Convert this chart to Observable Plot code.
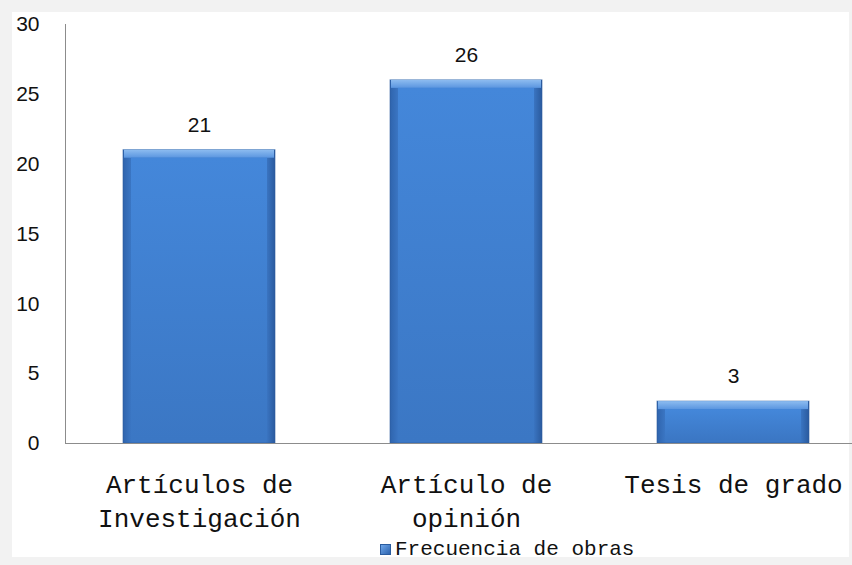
<!DOCTYPE html>
<html>
<head>
<meta charset="utf-8">
<script src="https://cdn.jsdelivr.net/npm/d3@7"></script>
<script src="https://cdn.jsdelivr.net/npm/@observablehq/plot@0.6"></script>
<style>
  html, body { margin: 0; padding: 0; background: #f2f2f2; }
  #frame { position: absolute; left: 12px; top: 12px; width: 837px; height: 545px; background: #ffffff; }
  #chart { position: absolute; left: 0; top: 0; }
  #legend { position: absolute; left: 380px; top: 538px; font-family: "Liberation Mono", "Courier New", monospace; font-size: 21px; color: #111; display: flex; align-items: center; }
  #legend .sw { width: 9px; height: 9px; margin-right: 4px; background: linear-gradient(135deg, #6ea6ea, #2d63ad); border: 1px solid #2a5c9f; }
</style>
</head>
<body>
<div id="frame"></div>
<div id="chart"></div>
<div id="legend"><span class="sw"></span><span id="legendText"></span></div>
<script>
const categories = ["Artículos de\nInvestigación", "Artículo de\nopinión", "Tesis de grado"];
const values = [21, 26, 3];
const yTicks = [0, 5, 10, 15, 20, 25, 30];
const seriesName = "Frecuencia de obras";

const data = categories.map((c, i) => ({category: c, value: values[i]}));

const defs = () => {
  const s = d3.create("svg:defs");
  const g1 = s.append("linearGradient").attr("id", "inner").attr("x1", 0).attr("y1", 0).attr("x2", 0).attr("y2", 1);
  g1.append("stop").attr("offset", "0%").attr("stop-color", "#4487da");
  g1.append("stop").attr("offset", "100%").attr("stop-color", "#3b77c4");
  const g2 = s.append("linearGradient").attr("id", "top").attr("x1", 0).attr("y1", 0).attr("x2", 0).attr("y2", 1);
  g2.append("stop").attr("offset", "0%").attr("stop-color", "#8dbcf0");
  g2.append("stop").attr("offset", "100%").attr("stop-color", "#5b96e0");
  const g3 = s.append("linearGradient").attr("id", "side").attr("x1", 0).attr("y1", 0).attr("x2", 1).attr("y2", 0);
  g3.append("stop").attr("offset", "0%").attr("stop-color", "#2f64ad");
  g3.append("stop").attr("offset", "6%").attr("stop-color", "#3c78c6");
  g3.append("stop").attr("offset", "94%").attr("stop-color", "#3c78c6");
  g3.append("stop").attr("offset", "100%").attr("stop-color", "#2a5a9e");
  return s.node();
};

const chart = Plot.plot({
  width: 852,
  height: 565,
  marginTop: 24,
  marginBottom: 122,
  marginLeft: 65,
  marginRight: 0,
  style: {background: "transparent", color: "#111"},
  x: {domain: categories, range: [65, 867], paddingInner: 0.43, paddingOuter: 0.215, label: null, axis: null},
  y: {domain: [0, 30], ticks: yTicks, label: null},
  marks: [
    defs,
    Plot.barY(data, {x: "category", y: "value", fill: "url(#side)"}),
    Plot.barY(data, {x: "category", y: "value", fill: "none", stroke: "#2c5c9e", strokeWidth: 1, strokeOpacity: 0.6}),
    Plot.barY(data, {x: "category", y1: "value", y2: "value", insetBottom: -8, insetLeft: 1, insetRight: 1, fill: "url(#top)"}),
    Plot.barY(data, {x: "category", y: "value", insetTop: 8, insetLeft: 8, insetRight: 8, insetBottom: 3, fill: "url(#inner)"}),
    Plot.axisY({ticks: yTicks, tickSize: 0, tickPadding: 26, fontSize: 21, label: null}),
    Plot.text(categories, {x: d => d, frameAnchor: "bottom", lineAnchor: "top", dy: 26, fontSize: 26, lineHeight: 1.3, fontFamily: "Liberation Mono", fill: "#111"}),
    Plot.frame({anchor: "left", stroke: "#8c8c8c"}),
    Plot.ruleY([0], {stroke: "#8c8c8c"}),
    Plot.text(data, {x: "category", y: "value", text: d => String(d.value), dy: -25, fontSize: 21, fill: "#111"})
  ]
});
d3.select(chart).style("font-family", "'Liberation Sans', Arial, sans-serif");
document.getElementById("chart").appendChild(chart);
document.getElementById("legendText").textContent = seriesName;
</script>
</body>
</html>
